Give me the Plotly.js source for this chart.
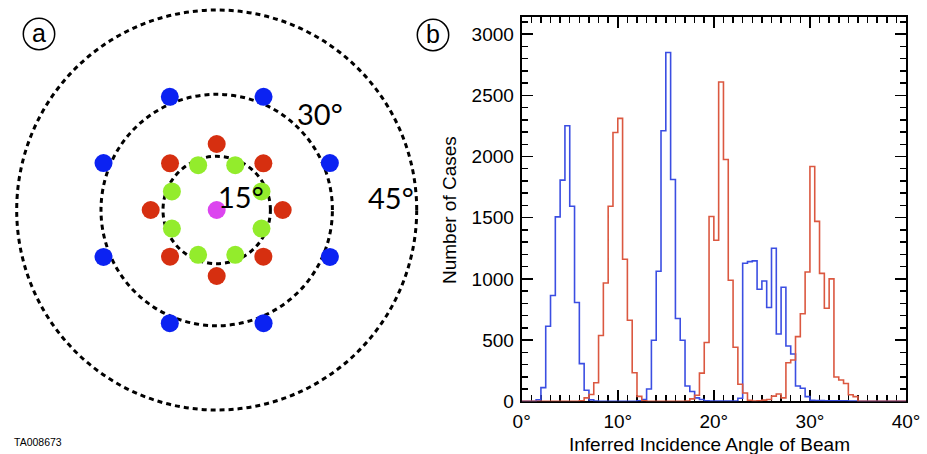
<!DOCTYPE html>
<html>
<head>
<meta charset="utf-8">
<script src="https://cdn.plot.ly/plotly-3.0.1.min.js"></script>
<style>html,body{margin:0;padding:0;background:#fff;}#chart{width:927px;height:454px;}</style>
</head>
<body>
<div id="chart"></div>
<script>
// ---- Panel (b): histogram data (0.5 degree bins) ----
const binEdges = [0,0.5,1,1.5,2,2.5,3,3.5,4,4.5,5,5.5,6,6.5,7,7.5,8,8.5,9,9.5,
  10,10.5,11,11.5,12,12.5,13,13.5,14,14.5,15,15.5,16,16.5,17,17.5,18,18.5,19,19.5,
  20,20.5,21,21.5,22,22.5,23,23.5,24,24.5,25,25.5,26,26.5,27,27.5,28,28.5,29,29.5,
  30,30.5,31,31.5,32,32.5,33,33.5,34,34.5,35,35.5,36,36.5,37,37.5,38,38.5,39,39.5,40];
const blueCounts = [0,0,0,12,112,613,864,1507,1807,2251,
  1594,807,308,90,12,3,0,0,0,0,
  0,0,0,0,5,14,100,499,1063,2210,
  2850,1812,676,499,125,80,28,15,5,2,
  2,2,2,2,3,25,1128,1141,1147,915,
  983,766,1250,550,932,452,387,125,106,38,
  8,6,6,5,5,5,4,4,3,3,
  0,0,0,0,0,0,0,0,0,0];
const redCounts = [0,0,0,0,0,0,0,0,0,0,
  0,0,5,28,55,152,537,967,1594,2196,
  2311,1161,662,233,40,5,0,0,0,0,
  0,0,0,0,3,20,50,230,480,1510,
  1316,2608,1976,989,442,139,68,8,3,5,
  10,15,42,60,28,315,337,528,715,1056,
  1918,1470,1045,760,1000,198,174,145,54,38,
  0,0,0,0,0,0,0,0,0,0];
const xTickVals = [0,10,20,30,40];
const xTickText = ['0°','10°','20°','30°','40°'];
const yTickVals = [0,500,1000,1500,2000,2500,3000];

// ---- Panel (a): beam pattern ----
const ringRadii = [53.7,115.7,200];
const ringLabels = ['15°','30°','45°'];
const blueDotTheta = [22.5,67.5,112.5,157.5,202.5,247.5,292.5,337.5];
const blueDotR = [122.5,122.5,122.5,122.5,122.5,122.5,122.5,122.5];
const redDotTheta = [0,45,90,135,180,225,270,315];
const redDotR = [66,66,66,66,66,66,66,66];
const greenDotTheta = [22.5,67.5,112.5,157.5,202.5,247.5,292.5,337.5];
const greenDotR = [48.5,48.5,48.5,48.5,48.5,48.5,48.5,48.5];
const centerDotTheta = [0];
const centerDotR = [0];

const W = 927, H = 454;
const px = v => v / W;
const py = v => (H - v) / H;

function stepY(counts){ return counts.concat([counts[counts.length-1]]); }

const axisFont = {family:'Liberation Sans, Arial, Helvetica, sans-serif', size:19, color:'#000'};

const traces = [
  {type:'scatter', mode:'lines', x:binEdges, y:stepY(blueCounts), line:{shape:'hv', color:'#3b4ee2', width:1.6}, xaxis:'x', yaxis:'y', hoverinfo:'skip', cliponaxis:false},
  {type:'scatter', mode:'lines', x:binEdges, y:stepY(redCounts), line:{shape:'hv', color:'#db5840', width:1.6}, xaxis:'x', yaxis:'y', hoverinfo:'skip', cliponaxis:false},
  {type:'scatterpolar', mode:'markers', r:blueDotR, theta:blueDotTheta, subplot:'polar', marker:{size:18, color:'#0b22f2'}, cliponaxis:false, hoverinfo:'skip'},
  {type:'scatterpolar', mode:'markers', r:redDotR, theta:redDotTheta, subplot:'polar', marker:{size:18, color:'#d62f10'}, cliponaxis:false, hoverinfo:'skip'},
  {type:'scatterpolar', mode:'markers', r:greenDotR, theta:greenDotTheta, subplot:'polar', marker:{size:18, color:'#93ec2c'}, cliponaxis:false, hoverinfo:'skip'},
  {type:'scatterpolar', mode:'markers', r:centerDotR, theta:centerDotTheta, subplot:'polar', marker:{size:18, color:'#dc45ef'}, cliponaxis:false, hoverinfo:'skip'}
];

const labelFont = {family:'Lato, Open Sans, sans-serif', size:29, color:'#000'};
const annotations = [
  {text:ringLabels[0], x:px(241), y:py(196), xref:'paper', yref:'paper', showarrow:false, font:labelFont, xanchor:'center', yanchor:'middle'},
  {text:ringLabels[1], x:px(320), y:py(114), xref:'paper', yref:'paper', showarrow:false, font:labelFont, xanchor:'center', yanchor:'middle'},
  {text:ringLabels[2], x:px(391), y:py(197), xref:'paper', yref:'paper', showarrow:false, font:labelFont, xanchor:'center', yanchor:'middle'},
  {text:'a', x:px(39), y:py(33), xref:'paper', yref:'paper', showarrow:false, font:{family:'Liberation Sans, Arial, sans-serif', size:25, color:'#000'}, xanchor:'center', yanchor:'middle'},
  {text:'b', x:px(433), y:py(34), xref:'paper', yref:'paper', showarrow:false, font:{family:'Liberation Sans, Arial, sans-serif', size:25, color:'#000'}, xanchor:'center', yanchor:'middle'},
  {text:'TA008673', x:px(12), y:py(442), xref:'paper', yref:'paper', showarrow:false, font:{family:'Liberation Sans, Arial, sans-serif', size:10.5, color:'#000'}, xanchor:'left', yanchor:'middle'},
  {text:'Inferred Incidence Angle of Beam', x:px(709), y:py(444.5), xref:'paper', yref:'paper', showarrow:false, font:axisFont, xanchor:'center', yanchor:'middle'},
  {text:'Number of Cases', x:px(449), y:py(210), xref:'paper', yref:'paper', showarrow:false, font:axisFont, textangle:-90, xanchor:'center', yanchor:'middle'}
];

const shapes = [
  {type:'circle', xref:'paper', yref:'paper', x0:px(39-15.7), x1:px(39+15.7), y0:py(34+15.7), y1:py(34-15.7), line:{color:'#000', width:1.5}},
  {type:'circle', xref:'paper', yref:'paper', x0:px(433-15.7), x1:px(433+15.7), y0:py(35+15.7), y1:py(35-15.7), line:{color:'#000', width:1.5}}
];

const commonAxis = {
  showline:true, linecolor:'#000', linewidth:2, mirror:'ticks',
  ticks:'inside', ticklen:11, tickwidth:1.5, tickcolor:'#000',
  showgrid:false, zeroline:false, tickfont:axisFont, fixedrange:true,
  layer:'below traces'
};

const layout = {
  width:W, height:H,
  margin:{l:0, r:0, t:0, b:0, pad:0},
  paper_bgcolor:'#fff', plot_bgcolor:'rgba(0,0,0,0)',
  showlegend:false,
  xaxis: Object.assign({}, commonAxis, {
    domain:[px(521.7), px(906)], range:[0,40], tickmode:'array', tickvals:xTickVals, ticktext:xTickText,
    minor:{dtick:1, ticks:'inside', ticklen:6, tickwidth:1.5, tickcolor:'#000', showgrid:false},
    anchor:'y', ticklabelstandoff:2
  }),
  yaxis: Object.assign({}, commonAxis, {
    domain:[py(401.3), py(16.7)], range:[0,3142], tickmode:'array', tickvals:yTickVals,
    minor:{dtick:100, ticks:'inside', ticklen:6, tickwidth:1.5, tickcolor:'#000', showgrid:false},
    anchor:'x', ticklabelstandoff:2
  }),
  polar:{
    domain:{x:[px(216.7-210), px(216.7+210)], y:[py(210+210), py(210-210)]},
    bgcolor:'rgba(0,0,0,0)',
    radialaxis:{range:[0,210], tickvals:ringRadii, showticklabels:false, ticks:'', showline:false,
      showgrid:true, gridcolor:'#000', gridwidth:3, griddash:'5px,4px'},
    angularaxis:{showgrid:false, showticklabels:false, ticks:'', showline:false, rotation:0, direction:'counterclockwise'}
  },
  annotations:annotations,
  shapes:shapes
};

Plotly.newPlot('chart', traces, layout, {staticPlot:true, displayModeBar:false});
</script>
</body>
</html>
